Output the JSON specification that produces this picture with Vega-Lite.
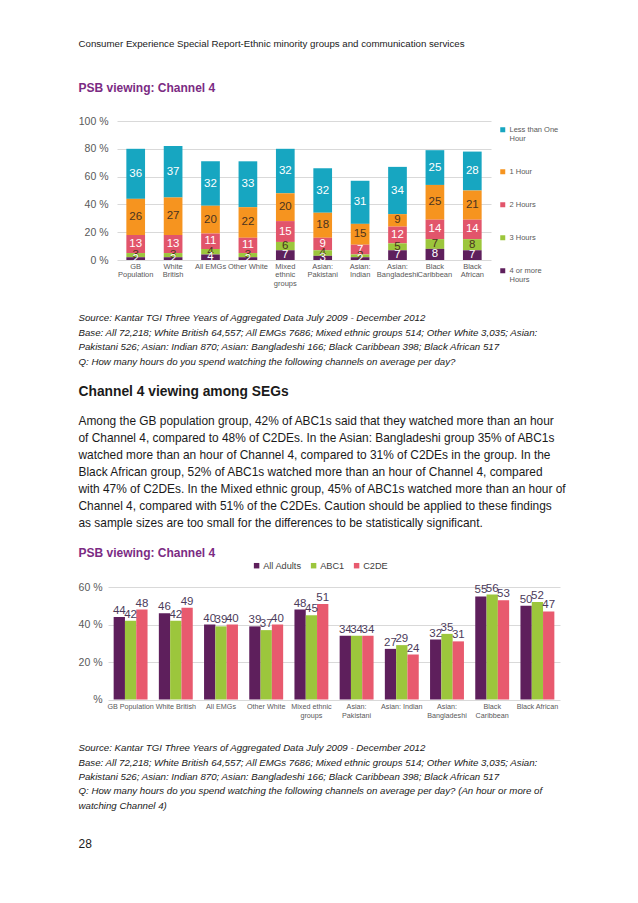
{
  "$schema": "https://vega.github.io/schema/vega-lite/v6.json",
  "background": "white",
  "padding": {"left": 78, "top": 30, "right": 0, "bottom": 0},
  "columns": 1,
  "align": "none",
  "spacing": 0,
  "bounds": "full",
  "resolve": {"scale": {"color": "independent"}, "legend": {"color": "independent"}},
  "config": {
    "font": "Liberation Sans",
    "view": {"stroke": null},
    "text": {"font": "Liberation Sans"}
  },
  "datasets": {
    "header": [{"i": 0, "t": "Consumer Experience Special Report-Ethnic minority groups and communication services"}],
    "psb": [{"i": 0, "t": "PSB viewing: Channel 4"}],
    "src1": [
      {"i": 0, "t": "Source: Kantar TGI Three Years of Aggregated Data July 2009 - December 2012"},
      {"i": 1, "t": "Base: All 72,218; White British 64,557; All EMGs 7686; Mixed ethnic groups 514; Other White 3,035; Asian:"},
      {"i": 2, "t": "Pakistani 526; Asian: Indian 870; Asian: Bangladeshi 166; Black Caribbean 398; Black African 517"},
      {"i": 3, "t": "Q: How many hours do you spend watching the following channels on average per day?"}
    ],
    "head2": [{"i": 0, "t": "Channel 4 viewing among SEGs"}],
    "para": [
      {"i": 0, "t": "Among the GB population group, 42% of ABC1s said that they watched more than an hour"},
      {"i": 1, "t": "of Channel 4, compared to 48% of C2DEs. In the Asian: Bangladeshi group 35% of ABC1s"},
      {"i": 2, "t": "watched more than an hour of Channel 4, compared to 31% of C2DEs in the group. In the"},
      {"i": 3, "t": "Black African group, 52% of ABC1s watched more than an hour of Channel 4, compared"},
      {"i": 4, "t": "with 47% of C2DEs. In the Mixed ethnic group, 45% of ABC1s watched more than an hour of"},
      {"i": 5, "t": "Channel 4, compared with 51% of the C2DEs. Caution should be applied to these findings"},
      {"i": 6, "t": "as sample sizes are too small for the differences to be statistically significant."}
    ],
    "src2": [
      {"i": 0, "t": "Source: Kantar TGI Three Years of Aggregated Data July 2009 - December 2012"},
      {"i": 1, "t": "Base: All 72,218; White British 64,557; All EMGs 7686; Mixed ethnic groups 514; Other White 3,035; Asian:"},
      {"i": 2, "t": "Pakistani 526; Asian: Indian 870; Asian: Bangladeshi 166; Black Caribbean 398; Black African 517"},
      {"i": 3, "t": "Q: How many hours do you spend watching the following channels on average per day? (An hour or more of"},
      {"i": 4, "t": "watching Channel 4)"}
    ],
    "page": [{"i": 0, "t": "28"}],
    "hours": [
      {"group": "GB Population", "series": "Less than One Hour", "h": 0, "pct": 36},
      {"group": "GB Population", "series": "1 Hour", "h": 1, "pct": 26},
      {"group": "GB Population", "series": "2 Hours", "h": 2, "pct": 13},
      {"group": "GB Population", "series": "3 Hours", "h": 3, "pct": 3},
      {"group": "GB Population", "series": "4 or more Hours", "h": 4, "pct": 2},
      {"group": "White British", "series": "Less than One Hour", "h": 0, "pct": 37},
      {"group": "White British", "series": "1 Hour", "h": 1, "pct": 27},
      {"group": "White British", "series": "2 Hours", "h": 2, "pct": 13},
      {"group": "White British", "series": "3 Hours", "h": 3, "pct": 3},
      {"group": "White British", "series": "4 or more Hours", "h": 4, "pct": 2},
      {"group": "All EMGs", "series": "Less than One Hour", "h": 0, "pct": 32},
      {"group": "All EMGs", "series": "1 Hour", "h": 1, "pct": 20},
      {"group": "All EMGs", "series": "2 Hours", "h": 2, "pct": 11},
      {"group": "All EMGs", "series": "3 Hours", "h": 3, "pct": 4},
      {"group": "All EMGs", "series": "4 or more Hours", "h": 4, "pct": 4},
      {"group": "Other White", "series": "Less than One Hour", "h": 0, "pct": 33},
      {"group": "Other White", "series": "1 Hour", "h": 1, "pct": 22},
      {"group": "Other White", "series": "2 Hours", "h": 2, "pct": 11},
      {"group": "Other White", "series": "3 Hours", "h": 3, "pct": 3},
      {"group": "Other White", "series": "4 or more Hours", "h": 4, "pct": 2},
      {"group": "Mixed ethnic groups", "series": "Less than One Hour", "h": 0, "pct": 32},
      {"group": "Mixed ethnic groups", "series": "1 Hour", "h": 1, "pct": 20},
      {"group": "Mixed ethnic groups", "series": "2 Hours", "h": 2, "pct": 15},
      {"group": "Mixed ethnic groups", "series": "3 Hours", "h": 3, "pct": 6},
      {"group": "Mixed ethnic groups", "series": "4 or more Hours", "h": 4, "pct": 7},
      {"group": "Asian: Pakistani", "series": "Less than One Hour", "h": 0, "pct": 32},
      {"group": "Asian: Pakistani", "series": "1 Hour", "h": 1, "pct": 18},
      {"group": "Asian: Pakistani", "series": "2 Hours", "h": 2, "pct": 9},
      {"group": "Asian: Pakistani", "series": "3 Hours", "h": 3, "pct": 4},
      {"group": "Asian: Pakistani", "series": "4 or more Hours", "h": 4, "pct": 3},
      {"group": "Asian: Indian", "series": "Less than One Hour", "h": 0, "pct": 31},
      {"group": "Asian: Indian", "series": "1 Hour", "h": 1, "pct": 15},
      {"group": "Asian: Indian", "series": "2 Hours", "h": 2, "pct": 7},
      {"group": "Asian: Indian", "series": "3 Hours", "h": 3, "pct": 2},
      {"group": "Asian: Indian", "series": "4 or more Hours", "h": 4, "pct": 2},
      {"group": "Asian: Bangladeshi", "series": "Less than One Hour", "h": 0, "pct": 34},
      {"group": "Asian: Bangladeshi", "series": "1 Hour", "h": 1, "pct": 9},
      {"group": "Asian: Bangladeshi", "series": "2 Hours", "h": 2, "pct": 12},
      {"group": "Asian: Bangladeshi", "series": "3 Hours", "h": 3, "pct": 5},
      {"group": "Asian: Bangladeshi", "series": "4 or more Hours", "h": 4, "pct": 7},
      {"group": "Black Caribbean", "series": "Less than One Hour", "h": 0, "pct": 25},
      {"group": "Black Caribbean", "series": "1 Hour", "h": 1, "pct": 25},
      {"group": "Black Caribbean", "series": "2 Hours", "h": 2, "pct": 14},
      {"group": "Black Caribbean", "series": "3 Hours", "h": 3, "pct": 7},
      {"group": "Black Caribbean", "series": "4 or more Hours", "h": 4, "pct": 8},
      {"group": "Black African", "series": "Less than One Hour", "h": 0, "pct": 28},
      {"group": "Black African", "series": "1 Hour", "h": 1, "pct": 21},
      {"group": "Black African", "series": "2 Hours", "h": 2, "pct": 14},
      {"group": "Black African", "series": "3 Hours", "h": 3, "pct": 8},
      {"group": "Black African", "series": "4 or more Hours", "h": 4, "pct": 7}
    ],
    "seg": [
      {"group": "GB Population", "seg": "All Adults", "v": 44},
      {"group": "GB Population", "seg": "ABC1", "v": 42},
      {"group": "GB Population", "seg": "C2DE", "v": 48},
      {"group": "White British", "seg": "All Adults", "v": 46},
      {"group": "White British", "seg": "ABC1", "v": 42},
      {"group": "White British", "seg": "C2DE", "v": 49},
      {"group": "All EMGs", "seg": "All Adults", "v": 40},
      {"group": "All EMGs", "seg": "ABC1", "v": 39},
      {"group": "All EMGs", "seg": "C2DE", "v": 40},
      {"group": "Other White", "seg": "All Adults", "v": 39},
      {"group": "Other White", "seg": "ABC1", "v": 37},
      {"group": "Other White", "seg": "C2DE", "v": 40},
      {"group": "Mixed ethnic groups", "seg": "All Adults", "v": 48},
      {"group": "Mixed ethnic groups", "seg": "ABC1", "v": 45},
      {"group": "Mixed ethnic groups", "seg": "C2DE", "v": 51},
      {"group": "Asian: Pakistani", "seg": "All Adults", "v": 34},
      {"group": "Asian: Pakistani", "seg": "ABC1", "v": 34},
      {"group": "Asian: Pakistani", "seg": "C2DE", "v": 34},
      {"group": "Asian: Indian", "seg": "All Adults", "v": 27},
      {"group": "Asian: Indian", "seg": "ABC1", "v": 29},
      {"group": "Asian: Indian", "seg": "C2DE", "v": 24},
      {"group": "Asian: Bangladeshi", "seg": "All Adults", "v": 32},
      {"group": "Asian: Bangladeshi", "seg": "ABC1", "v": 35},
      {"group": "Asian: Bangladeshi", "seg": "C2DE", "v": 31},
      {"group": "Black Caribbean", "seg": "All Adults", "v": 55},
      {"group": "Black Caribbean", "seg": "ABC1", "v": 56},
      {"group": "Black Caribbean", "seg": "C2DE", "v": 53},
      {"group": "Black African", "seg": "All Adults", "v": 50},
      {"group": "Black African", "seg": "ABC1", "v": 52},
      {"group": "Black African", "seg": "C2DE", "v": 47}
    ]
  },
  "concat": [
    {
      "width": 480, "height": 36,
      "data": {"name": "header"},
      "mark": {"type": "text", "align": "left", "baseline": "middle", "fontSize": 9.7, "color": "#1a1a1a"},
      "encoding": {
        "x": {"datum": 0, "type": "quantitative", "scale": {"domain": [0, 1], "range": [-38.5, 441.5]}, "axis": null},
        "y": {"field": "i", "type": "ordinal", "axis": null, "scale": {"align": 0.389}},
        "text": {"field": "t"}
      }
    },
    {
      "width": 480, "height": 50,
      "data": {"name": "psb"},
      "mark": {"type": "text", "align": "left", "baseline": "middle", "fontSize": 12, "fontWeight": "bold", "color": "#7B2B83"},
      "encoding": {
        "x": {"datum": 0, "type": "quantitative", "scale": {"domain": [0, 1], "range": [-38.5, 441.5]}, "axis": null},
        "y": {"field": "i", "type": "ordinal", "axis": null, "scale": {"align": 0.44}},
        "text": {"field": "t"}
      }
    },
    {
      "width": 374, "height": 139,
      "data": {"name": "hours"},
      "encoding": {
        "x": {
          "field": "group", "type": "nominal",
          "sort": ["GB Population", "White British", "All EMGs", "Other White", "Mixed ethnic groups", "Asian: Pakistani", "Asian: Indian", "Asian: Bangladeshi", "Black Caribbean", "Black African"],
          "scale": {"paddingInner": 0.5, "paddingOuter": 0.25},
          "axis": {
            "title": null, "labelAngle": 0, "labelFontSize": 7.5, "labelColor": "#595959",
            "labelPadding": 2, "ticks": false, "domain": false, "labelBaseline": "top", "labelLineHeight": 8.5,
            "labelExpr": "indexof(['All EMGs','Other White'], datum.label) >= 0 ? datum.label : split(datum.label, ' ')"
          }
        },
        "y": {
          "field": "pct", "type": "quantitative", "stack": "zero",
          "scale": {"domain": [0, 100]},
          "axis": {
            "title": null, "values": [0, 20, 40, 60, 80, 100], "labelExpr": "datum.value + ' %'",
            "grid": true, "gridColor": "#D9D9D9", "gridWidth": 1.2, "domain": false, "ticks": false, "tickSize": 0,
            "labelPadding": 9, "labelFontSize": 10.5, "labelColor": "#595959"
          }
        },
        "order": {"field": "h", "sort": "descending"}
      },
      "layer": [
        {
          "mark": {"type": "bar"},
          "encoding": {
            "color": {
              "field": "series", "type": "nominal",
              "scale": {
                "domain": ["Less than One Hour", "1 Hour", "2 Hours", "3 Hours", "4 or more Hours"],
                "range": ["#17A6C1", "#F6941F", "#E2556B", "#9CC63C", "#5E1F5C"]
              },
              "legend": {
                "orient": "right", "title": null, "offset": 3, "padding": 5,
                "symbolType": "square", "symbolSize": 25, "symbolStrokeWidth": 0,
                "labelFontSize": 7.5, "labelColor": "#595959", "labelOffset": 3, "rowPadding": 24,
                "labelExpr": "datum.label == 'Less than One Hour' ? ['Less than One', 'Hour'] : datum.label == '4 or more Hours' ? ['4 or more', 'Hours'] : datum.label"
              }
            }
          }
        },
        {
          "mark": {"type": "text", "fontSize": 11.5, "baseline": "middle"},
          "encoding": {
            "y": {"field": "pct", "type": "quantitative", "stack": "zero", "bandPosition": 0.5},
            "text": {"field": "pct", "type": "quantitative"},
            "color": {
              "condition": {"test": "datum.series == '1 Hour' || datum.series == '3 Hours'", "value": "#4A3320"},
              "value": "#FFFFFF"
            }
          }
        }
      ]
    },
    {
      "width": 10, "height": 7,
      "data": {"values": []},
      "mark": "text"
    },
    {
      "width": 480, "height": 73,
      "data": {"name": "src1"},
      "mark": {"type": "text", "align": "left", "baseline": "middle", "fontSize": 9.7, "fontStyle": "italic", "color": "#1a1a1a"},
      "encoding": {
        "x": {"datum": 0, "type": "quantitative", "scale": {"domain": [0, 1], "range": [-38.5, 441.5]}, "axis": null},
        "y": {"field": "i", "type": "ordinal", "axis": null, "scale": {"padding": 1, "align": 0.75}},
        "text": {"field": "t"}
      }
    },
    {
      "width": 480, "height": 38.7,
      "data": {"name": "head2"},
      "mark": {"type": "text", "align": "left", "baseline": "middle", "fontSize": 13.8, "fontWeight": "bold", "color": "#1a1a1a"},
      "encoding": {
        "x": {"datum": 0, "type": "quantitative", "scale": {"domain": [0, 1], "range": [-38.5, 441.5]}, "axis": null},
        "y": {"field": "i", "type": "ordinal", "axis": null, "scale": {"align": 0.6}},
        "text": {"field": "t"}
      }
    },
    {
      "width": 480, "height": 132,
      "data": {"name": "para"},
      "mark": {"type": "text", "align": "left", "baseline": "middle", "fontSize": 11.9, "color": "#1a1a1a"},
      "encoding": {
        "x": {"datum": 0, "type": "quantitative", "scale": {"domain": [0, 1], "range": [-38.5, 441.5]}, "axis": null},
        "y": {"field": "i", "type": "ordinal", "axis": null, "scale": {"padding": 0.882, "align": 0.44}},
        "text": {"field": "t"}
      }
    },
    {
      "width": 480, "height": 21,
      "data": {"name": "psb"},
      "mark": {"type": "text", "align": "left", "baseline": "middle", "fontSize": 12, "fontWeight": "bold", "color": "#7B2B83"},
      "encoding": {
        "x": {"datum": 0, "type": "quantitative", "scale": {"domain": [0, 1], "range": [-38.5, 441.5]}, "axis": null},
        "y": {"field": "i", "type": "ordinal", "axis": null, "scale": {"align": 0.64}},
        "text": {"field": "t"}
      }
    },
    {
      "width": 443, "height": 112.5,
      "data": {"name": "seg"},
      "encoding": {
        "x": {
          "field": "group", "type": "nominal",
          "sort": ["GB Population", "White British", "All EMGs", "Other White", "Mixed ethnic groups", "Asian: Pakistani", "Asian: Indian", "Asian: Bangladeshi", "Black Caribbean", "Black African"],
          "scale": {"paddingInner": 0.25, "paddingOuter": 0.125, "range": [-9, 443]},
          "axis": {
            "title": null, "labelAngle": 0, "labelFontSize": 7.2, "labelColor": "#595959",
            "labelPadding": 2.5, "ticks": false, "domain": false, "labelBaseline": "top", "labelLineHeight": 9,
            "labelExpr": "datum.label == 'Mixed ethnic groups' ? ['Mixed ethnic', 'groups'] : datum.label == 'Asian: Pakistani' ? ['Asian:', 'Pakistani'] : datum.label == 'Asian: Bangladeshi' ? ['Asian:', 'Bangladeshi'] : datum.label == 'Black Caribbean' ? ['Black', 'Caribbean'] : datum.label"
          }
        },
        "xOffset": {"field": "seg", "type": "nominal", "sort": ["All Adults", "ABC1", "C2DE"], "scale": {"paddingInner": 0, "paddingOuter": 0}},
        "y": {
          "field": "v", "type": "quantitative",
          "scale": {"domain": [0, 60]},
          "axis": {
            "title": null, "values": [0, 20, 40, 60], "labelExpr": "datum.value == 0 ? '%' : datum.value + ' %'",
            "grid": true, "gridColor": "#D9D9D9", "gridWidth": 1.2, "domain": false, "ticks": false, "tickSize": 0,
            "offset": 9, "labelPadding": 6, "labelFontSize": 10.5, "labelColor": "#595959"
          }
        }
      },
      "layer": [
        {
          "mark": {"type": "bar"},
          "encoding": {
            "color": {
              "field": "seg", "type": "nominal",
              "scale": {"domain": ["All Adults", "ABC1", "C2DE"], "range": ["#5E1F5C", "#9CC63C", "#E85A6E"]},
              "legend": {
                "orient": "none", "legendX": 135, "legendY": -26, "direction": "horizontal", "title": null,
                "symbolType": "square", "symbolSize": 30, "symbolStrokeWidth": 0,
                "labelFontSize": 9.2, "labelColor": "#404040", "labelOffset": 2, "columnPadding": 7
              }
            }
          }
        },
        {
          "mark": {"type": "text", "baseline": "bottom", "dy": -1, "fontSize": 11.5, "color": "#4B3B5B"},
          "encoding": {"text": {"field": "v", "type": "quantitative"}}
        }
      ]
    },
    {
      "width": 10, "height": 6,
      "data": {"values": []},
      "mark": "text"
    },
    {
      "width": 480, "height": 85.8,
      "data": {"name": "src2"},
      "mark": {"type": "text", "align": "left", "baseline": "middle", "fontSize": 9.7, "fontStyle": "italic", "color": "#1a1a1a"},
      "encoding": {
        "x": {"datum": 0, "type": "quantitative", "scale": {"domain": [0, 1], "range": [-38.5, 441.5]}, "axis": null},
        "y": {"field": "i", "type": "ordinal", "axis": null, "scale": {"padding": 1, "align": 0.818}},
        "text": {"field": "t"}
      }
    },
    {
      "width": 480, "height": 50,
      "data": {"name": "page"},
      "mark": {"type": "text", "align": "left", "baseline": "middle", "fontSize": 12, "color": "#1a1a1a"},
      "encoding": {
        "x": {"datum": 0, "type": "quantitative", "scale": {"domain": [0, 1], "range": [-38.5, 441.5]}, "axis": null},
        "y": {"field": "i", "type": "ordinal", "axis": null, "scale": {"align": 0.652}},
        "text": {"field": "t"}
      }
    }
  ]
}
